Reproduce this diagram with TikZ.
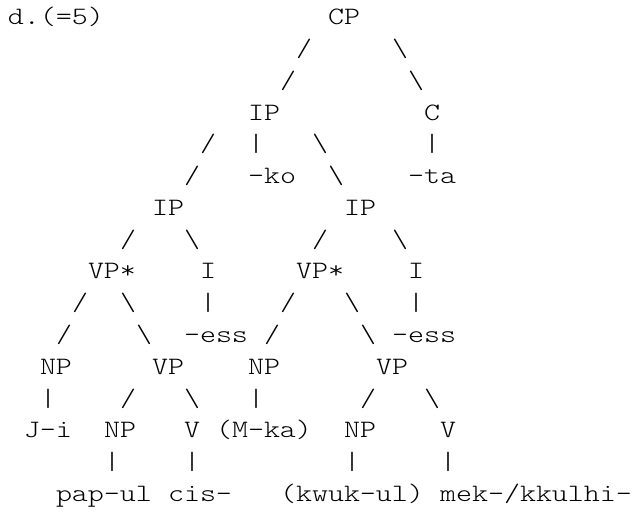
\documentclass[tikz,border=0pt]{standalone}
\usepackage{fontspec}
\newfontfamily\courfont{Latin Modern Mono Light}[FakeStretch=1.219]
\tikzset{
  tok/.style={anchor=base west, inner sep=0pt, outer sep=0pt,
    font=\courfont\fontsize{25}{30}\selectfont, text=black}
}
% name, row, column, text
\newcommand\putok[4]{\node[tok] (#1) at ({8+16*#3},{512-25-31.75*(#2-1)}) {#4};}
\newcommand\bsl{\textbackslash}
\begin{document}
\begin{tikzpicture}[x=1pt,y=1pt]
\useasboundingbox[fill=white] (0,0) rectangle (632,512);
% row 1
\putok{lab}{1}{0}{d.(=5)}
\putok{cp}{1}{20}{CP}
% rows 2-3
\putok{s2a}{2}{18}{/}
\putok{s2b}{2}{24}{\bsl}
\putok{s3a}{3}{17}{/}
\putok{s3b}{3}{25}{\bsl}
% row 4
\putok{ipA}{4}{15}{IP}
\putok{c}{4}{26}{C}
% row 5
\putok{s5a}{5}{12}{/}
\putok{s5b}{5}{15}{|}
\putok{s5c}{5}{19}{\bsl}
\putok{s5d}{5}{26}{|}
% row 6
\putok{s6a}{6}{11}{/}
\putok{ko}{6}{15}{-ko}
\putok{s6b}{6}{20}{\bsl}
\putok{ta}{6}{25}{-ta}
% row 7
\putok{ipB}{7}{9}{IP}
\putok{ipC}{7}{21}{IP}
% row 8
\putok{s8a}{8}{7}{/}
\putok{s8b}{8}{11}{\bsl}
\putok{s8c}{8}{19}{/}
\putok{s8d}{8}{24}{\bsl}
% row 9
\putok{vpsA}{9}{5}{VP*}
\putok{iA}{9}{12}{I}
\putok{vpsB}{9}{18}{VP*}
\putok{iB}{9}{25}{I}
% row 10
\putok{s10a}{10}{4}{/}
\putok{s10b}{10}{7}{\bsl}
\putok{s10c}{10}{12}{|}
\putok{s10d}{10}{17}{/}
\putok{s10e}{10}{21}{\bsl}
\putok{s10f}{10}{25}{|}
% row 11
\putok{s11a}{11}{3}{/}
\putok{s11b}{11}{8}{\bsl}
\putok{essA}{11}{11}{-ess}
\putok{s11c}{11}{16}{/}
\putok{s11d}{11}{22}{\bsl}
\putok{essB}{11}{24}{-ess}
% row 12
\putok{npA}{12}{2}{NP}
\putok{vpA}{12}{9}{VP}
\putok{npB}{12}{15}{NP}
\putok{vpB}{12}{23}{VP}
% row 13
\putok{s13a}{13}{2}{|}
\putok{s13b}{13}{7}{/}
\putok{s13c}{13}{11}{\bsl}
\putok{s13d}{13}{15}{|}
\putok{s13e}{13}{22}{/}
\putok{s13f}{13}{26}{\bsl}
% row 14
\putok{ji}{14}{1}{J-i}
\putok{npC}{14}{6}{NP}
\putok{vA}{14}{11}{V}
\putok{mka}{14}{13}{(M-ka)}
\putok{npD}{14}{21}{NP}
\putok{vB}{14}{27}{V}
% row 15
\putok{s15a}{15}{6}{|}
\putok{s15b}{15}{11}{|}
\putok{s15c}{15}{21}{|}
\putok{s15d}{15}{27}{|}
% row 16
\putok{papul}{16}{3}{pap-ul}
\putok{cis}{16}{10}{cis-}
\putok{kwuk}{16}{17}{(kwuk-ul)}
\putok{mek}{16}{27}{mek-/kkulhi-}
\end{tikzpicture}
\end{document}
